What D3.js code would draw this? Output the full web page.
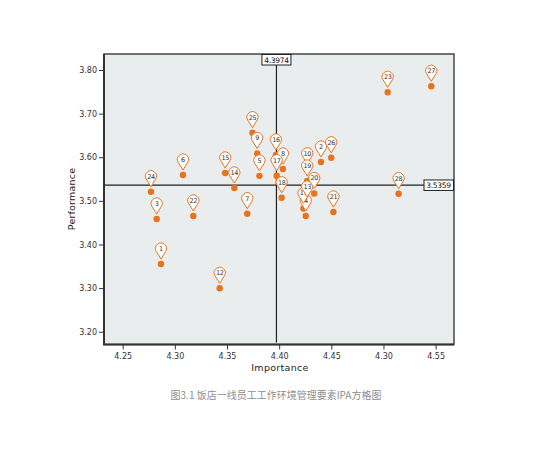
<!DOCTYPE html>
<html>
<head>
<meta charset="utf-8">
<script src="https://cdn.jsdelivr.net/npm/d3@7"></script>
<style>
  body { margin: 0; background: #fff; }
  svg { display: block; }
  .tick text { font: 8px "DejaVu Sans", sans-serif; fill: #333; }
  .tick line { stroke: #333; }
</style>
</head>
<body>
<svg width="550" height="459"></svg>
<script>
// item numbers and their (importance, performance) means
var ids = [1, 2, 3, 4, 5, 6, 7, 8, 9, 10, 11, 12, 13, 14, 15, 16, 17, 18, 19, 20, 21, 22, 23, 24, 25, 26, 27, 28];
var importance = [4.2867, 4.4401, 4.2826, 4.4255, 4.3811, 4.3078, 4.3694, 4.4036, 4.3789, 4.4269,
                  4.4233, 4.3430, 4.4269, 4.3570, 4.3483, 4.3969, 4.3976, 4.4024, 4.4269, 4.4336,
                  4.4520, 4.3177, 4.5040, 4.2771, 4.3744, 4.4499, 4.5458, 4.5145];
var performance = [3.3552, 3.5891, 3.4584, 3.4653, 3.5574, 3.5593, 3.4706, 3.5730, 3.6086, 3.5735,
                   3.4825, 3.2995, 3.4974, 3.5295, 3.5639, 3.6051, 3.5577, 3.5072, 3.5455, 3.5169,
                   3.4745, 3.4653, 3.7489, 3.5210, 3.6563, 3.5987, 3.7626, 3.5164];

var meanImportance = 4.3974,
    meanPerformance = 3.5359;

var xTicks = [4.25, 4.30, 4.35, 4.40, 4.45, 4.50, 4.55],
    xTickLabels = ["4.25", "4.30", "4.35", "4.40", "4.45", "4.30", "4.55"];
var yTicks = [3.20, 3.30, 3.40, 3.50, 3.60, 3.70, 3.80],
    yTickLabels = ["3.20", "3.30", "3.40", "3.50", "3.60", "3.70", "3.80"];

var caption = "图3.1 饭店一线员工工作环境管理要素IPA方格图";

var svg = d3.select("svg"),
    plot = {left: 104, right: 454, top: 54, bottom: 344.5},
    orange = "#e8731c";

var x = d3.scaleLinear().domain([4.2321, 4.5676]).range([plot.left, plot.right]),
    y = d3.scaleLinear().domain([3.1707, 3.8367]).range([plot.bottom, plot.top]);

var points = ids.map(function(id, i) {
  return {id: id, imp: importance[i], perf: performance[i]};
});

// plot background + frame
svg.append("rect")
    .attr("x", plot.left)
    .attr("y", plot.top)
    .attr("width", plot.right - plot.left)
    .attr("height", plot.bottom - plot.top)
    .attr("fill", "#e9eded")
    .attr("stroke", "#3a3a3a")
    .attr("stroke-width", 1.4);

// left and bottom edges a bit heavier, like the axis lines
svg.append("path")
    .attr("d", "M" + plot.left + "," + plot.top + "V" + plot.bottom + "H" + plot.right)
    .attr("fill", "none")
    .attr("stroke", "#333")
    .attr("stroke-width", 2);

svg.append("g")
    .attr("transform", "translate(0," + plot.bottom + ")")
    .call(d3.axisBottom(x).tickValues(xTicks).tickSize(5).tickPadding(4)
      .tickFormat(function(d, i) { return xTickLabels[i]; }))
    .call(function(g) { g.select(".domain").remove(); });

svg.append("g")
    .attr("transform", "translate(" + plot.left + ",0)")
    .call(d3.axisLeft(y).tickValues(yTicks).tickSize(5).tickPadding(2)
      .tickFormat(function(d, i) { return yTickLabels[i]; }))
    .call(function(g) { g.select(".domain").remove(); });

svg.append("text")
    .attr("x", 280)
    .attr("y", 371)
    .attr("text-anchor", "middle")
    .style("font", "9.5px 'DejaVu Sans', sans-serif")
    .style("letter-spacing", "0.3px")
    .attr("fill", "#222")
    .text("Importance");

svg.append("text")
    .attr("transform", "translate(75,199) rotate(-90)")
    .attr("text-anchor", "middle")
    .style("font", "9.5px 'DejaVu Sans', sans-serif")
    .style("letter-spacing", "0.2px")
    .attr("fill", "#222")
    .text("Performance");

// mean reference lines
var boxH = 10.5;
svg.append("line")
    .attr("x1", x(meanImportance)).attr("x2", x(meanImportance))
    .attr("y1", plot.top + boxH).attr("y2", plot.bottom - 2)
    .attr("stroke", "#222").attr("stroke-width", 1.2);

svg.append("line")
    .attr("x1", plot.left).attr("x2", plot.right - 30)
    .attr("y1", y(meanPerformance)).attr("y2", y(meanPerformance))
    .attr("stroke", "#222").attr("stroke-width", 1.2);

svg.append("rect")
    .attr("x", x(meanImportance) - 14.5).attr("y", plot.top + 0.5)
    .attr("width", 29).attr("height", boxH)
    .attr("fill", "#fff").attr("stroke", "#222").attr("stroke-width", 1);
svg.append("text")
    .attr("x", x(meanImportance)).attr("y", plot.top + 8.5)
    .attr("text-anchor", "middle")
    .style("font", "7.5px 'DejaVu Sans', sans-serif")
    .style("letter-spacing", "-0.3px")
    .attr("fill", "#111")
    .text(String(meanImportance));

svg.append("rect")
    .attr("x", plot.right - 30).attr("y", y(meanPerformance) - boxH / 2)
    .attr("width", 29.5).attr("height", boxH)
    .attr("fill", "#fff").attr("stroke", "#222").attr("stroke-width", 1);
svg.append("text")
    .attr("x", plot.right - 15.5).attr("y", y(meanPerformance) + 2.8)
    .attr("text-anchor", "middle")
    .style("font", "7.5px 'DejaVu Sans', sans-serif")
    .style("letter-spacing", "-0.3px")
    .attr("fill", "#111")
    .text(String(meanPerformance));

// dots
svg.append("g").selectAll("circle")
  .data(points)
  .enter().append("circle")
    .attr("cx", function(d) { return x(d.imp); })
    .attr("cy", function(d) { return y(d.perf); })
    .attr("r", 3.2)
    .attr("fill", orange);

// pin markers with item numbers
var pin = "M0,-5 L4.69,-12.62 A5.5,5.5 0 1,0 -4.69,-12.62 Z";
var marker = svg.append("g").selectAll(".pin")
  .data(points)
  .enter().append("g")
    .attr("class", "pin")
    .attr("transform", function(d) { return "translate(" + x(d.imp) + "," + y(d.perf) + ")"; });

marker.append("path")
    .attr("d", pin)
    .attr("fill", "#fff")
    .attr("stroke", orange)
    .attr("stroke-width", 1);

marker.append("text")
    .attr("y", -13.2)
    .attr("text-anchor", "middle")
    .style("font", "6.5px 'DejaVu Sans', sans-serif")
    .style("letter-spacing", "-0.4px")
    .attr("fill", "#333")
    .text(function(d) { return d.id; });

svg.append("text")
    .attr("x", 276)
    .attr("y", 399)
    .attr("text-anchor", "middle")
    .style("font", "10px 'Noto Sans CJK SC', sans-serif")
    .attr("fill", "#8e8e8e")
    .text(caption);
</script>
</body>
</html>
